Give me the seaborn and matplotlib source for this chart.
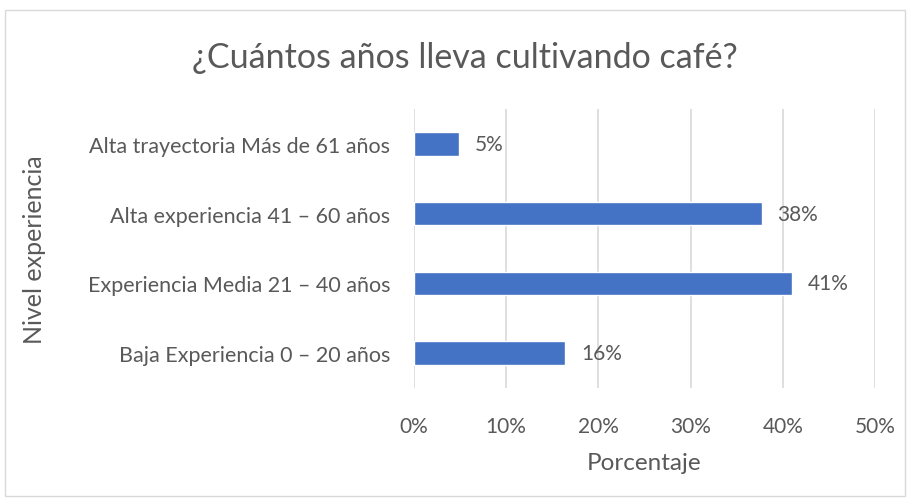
import matplotlib
matplotlib.use("Agg")
import matplotlib.pyplot as plt
import seaborn as sns
import pandas as pd
from matplotlib.ticker import PercentFormatter, MultipleLocator
from matplotlib.patches import Rectangle

categories = ["Alta trayectoria Más de 61 años",
              "Alta experiencia 41 – 60 años",
              "Experiencia Media 21 – 40 años",
              "Baja Experiencia 0 – 20 años"]
values = [0.049, 0.377, 0.410, 0.164]
value_labels = ["5%", "38%", "41%", "16%"]

title = "¿Cuántos años lleva cultivando café?"
xlabel = "Porcentaje"
ylabel = "Nivel experiencia"

df = pd.DataFrame({"cat": categories, "val": values})

sns.set_theme(style="white")
plt.rcParams['font.family'] = ['Lato', 'DejaVu Sans']
txt = "#595959"

fig = plt.figure(figsize=(9.11, 5.02), dpi=100)
ax = fig.add_axes([414/911, 1-389/502, (875-414)/911, (389-110)/502])

sns.barplot(data=df, x="val", y="cat", orient="h", color="#4472C4",
            saturation=1, width=0.34, ax=ax)

ax.set_xlim(0, 0.5)
ax.xaxis.set_major_locator(MultipleLocator(0.1))
ax.xaxis.set_major_formatter(PercentFormatter(1.0, decimals=0))
ax.grid(axis="x", color="#d9d9d9", linewidth=1.2)
ax.set_axisbelow(True)
for s in ax.spines.values():
    s.set_visible(False)
ax.tick_params(axis="both", length=0, colors=txt)
ax.tick_params(axis="x", pad=20, labelsize=15)
ax.tick_params(axis="y", pad=17, labelsize=15.5)
ax.set_xlabel(xlabel, fontsize=17.5, color=txt, labelpad=12)
ax.set_ylabel("")
fig.text(35/911, 1-250/502, ylabel, rotation=90, fontsize=18, color=txt,
         ha="center", va="center")

for p, lab in zip(ax.patches, value_labels):
    ax.annotate(lab, (p.get_width(), p.get_y() + p.get_height()/2),
                xytext=(11.5, 0), textcoords="offset points",
                ha="left", va="center", fontsize=15, color=txt)

fig.text(465/911, 1-58/502, title, fontsize=24.5, color=txt, ha="center", va="center")

fig.patches.append(Rectangle((5/911, 5/502), 900/911, 486/502, transform=fig.transFigure,
                             fill=False, edgecolor="#d9d9d9", linewidth=1))

fig.savefig("out.png", dpi=100)
